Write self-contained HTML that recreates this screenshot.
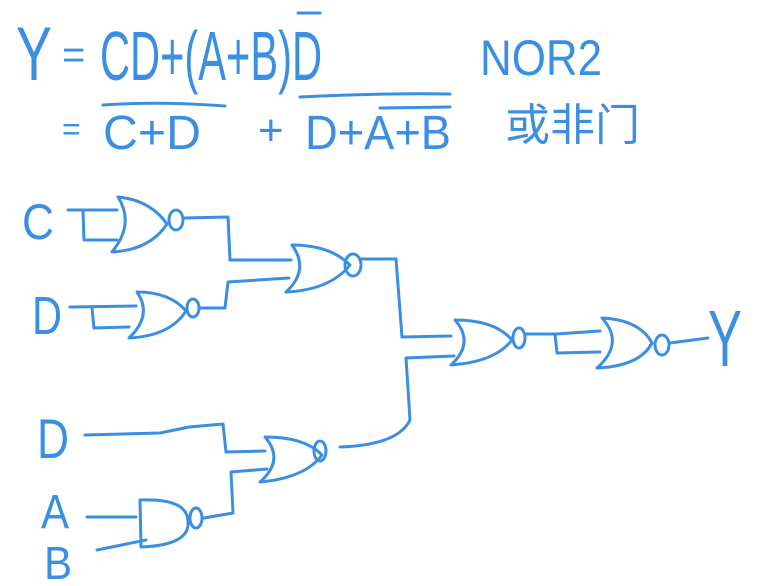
<!DOCTYPE html>
<html><head><meta charset="utf-8"><style>
html,body{margin:0;padding:0;background:#fff;width:761px;height:586px;overflow:hidden}
svg{display:block}
text{font-family:"Liberation Sans","Noto Sans CJK SC",sans-serif;fill:#3b8fe3}
</style></head><body>
<svg width="761" height="586" viewBox="0 0 761 586" xmlns="http://www.w3.org/2000/svg">
<g fill="none" stroke="#3b8fe3" stroke-width="3" stroke-linecap="round" stroke-linejoin="round">
<path d="M298 13 L320 13"/>
<path d="M103 105 Q160 101 225 106"/>
<path d="M300 97 Q380 93 450 94"/>
<path d="M380 108 L450 107"/>
<path d="M68 210 L117 210 M83 210 L84 240 L117 240"/>
<path d="M118 197 Q135 224 112 252 Q150 250 167 224 Q150 200 118 197 Z"/>
<ellipse cx="176" cy="220" rx="7" ry="10"/>
<path d="M184 218 L228 217 L230 260 L291 260"/>
<path d="M70 307 L136 306 M92 308 L94 328 L129 327"/>
<path d="M137 292 Q153 315 129 338 Q170 336 186 311 Q170 292 137 292 Z"/>
<ellipse cx="193" cy="308" rx="6" ry="9"/>
<path d="M200 308 L225 308 L228 282 L289 278"/>
<path d="M292 245 Q310 270 286 292 Q330 290 350 265 Q330 245 292 245 Z"/>
<ellipse cx="353" cy="265" rx="8" ry="11"/>
<path d="M362 259 L396 259 L402 337 L451 336"/>
<path d="M455 320 Q475 343 451 365 Q495 362 512 340 Q495 320 455 320 Z"/>
<ellipse cx="519" cy="338" rx="6" ry="10"/>
<path d="M526 334 L555 334 L557 353 L600 352 M556 334 L600 331"/>
<path d="M602 318 Q625 343 597 368 Q640 366 652 343 Q640 320 602 318 Z"/>
<ellipse cx="662" cy="345" rx="7" ry="10"/>
<path d="M670 343 L708 338"/>
<path d="M454 356 L406 358 L410 420 Q398 445 340 447"/>
<path d="M85 435 L160 433 L189 427 L223 424 L226 452 L265 451"/>
<path d="M265 437 Q285 460 260 482 Q305 478 322 455 Q305 437 265 437 Z"/>
<ellipse cx="320" cy="451" rx="6" ry="10"/>
<path d="M231 472 L267 469 M231 472 L233 513 L204 518"/>
<path d="M140 500 L141 547 Q190 545 188 522 Q188 498 140 500 Z"/>
<ellipse cx="196" cy="518" rx="6" ry="10"/>
<path d="M87 517 L136 517 M97 550 L146 540"/>
</g>
<text x="16" y="80" font-size="76" textLength="36" lengthAdjust="spacingAndGlyphs">Y</text>
<text x="62" y="68" font-size="40">=</text>
<text x="100" y="80" font-size="70" textLength="222" lengthAdjust="spacingAndGlyphs">CD+(A+B)D</text>
<text x="480" y="75" font-size="50" textLength="122" lengthAdjust="spacingAndGlyphs">NOR2</text>
<text x="62" y="140" font-size="32">=</text>
<text x="103" y="149" font-size="48" textLength="98" lengthAdjust="spacingAndGlyphs">C+D</text>
<text x="258" y="145" font-size="44">+</text>
<text x="305" y="149" font-size="48" textLength="146" lengthAdjust="spacingAndGlyphs">D+A+B</text>
<text x="505" y="140" font-size="44" textLength="135" lengthAdjust="spacingAndGlyphs">或非门</text>
<text x="22" y="239" font-size="50" textLength="32" lengthAdjust="spacingAndGlyphs">C</text>
<text x="32" y="334" font-size="54" textLength="30" lengthAdjust="spacingAndGlyphs">D</text>
<text x="37" y="458" font-size="56" textLength="32" lengthAdjust="spacingAndGlyphs">D</text>
<text x="41" y="528" font-size="48" textLength="28" lengthAdjust="spacingAndGlyphs">A</text>
<text x="44" y="579" font-size="46" textLength="28" lengthAdjust="spacingAndGlyphs">B</text>
<text x="708" y="366" font-size="80" textLength="34" lengthAdjust="spacingAndGlyphs">Y</text>
</svg>
</body></html>
